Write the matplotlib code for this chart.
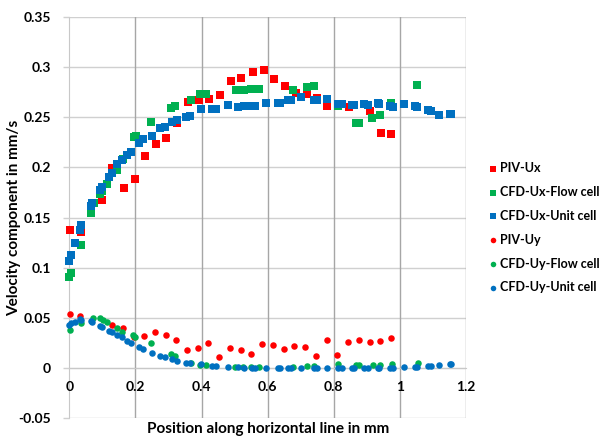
import matplotlib
matplotlib.use("Agg")
import matplotlib.pyplot as plt

plt.rcParams['font.family'] = ['Lato', 'DejaVu Sans']
plt.rcParams['font.weight'] = 'bold'

# Horizontal velocity component (Ux)
piv_ux_x = [0.002, 0.034, 0.100, 0.128, 0.164, 0.198, 0.228, 0.262, 0.294, 0.325,
            0.358, 0.391, 0.423, 0.456, 0.489, 0.520, 0.555, 0.588, 0.619, 0.652,
            0.685, 0.718, 0.748, 0.780, 0.845, 0.877, 0.910, 0.942, 0.974]
piv_ux_y = [0.138, 0.136, 0.168, 0.199, 0.180, 0.189, 0.211, 0.223, 0.229, 0.244,
            0.265, 0.267, 0.268, 0.272, 0.286, 0.289, 0.295, 0.297, 0.288, 0.281,
            0.274, 0.273, 0.269, 0.261, 0.260, 0.244, 0.256, 0.234, 0.233]

flow_x = [0.000, 0.005, 0.035, 0.067, 0.076, 0.093, 0.099, 0.113, 0.143, 0.162,
          0.196, 0.202, 0.246, 0.307, 0.320, 0.368, 0.394, 0.414, 0.504, 0.527,
          0.550, 0.574, 0.676, 0.720, 0.739, 0.813, 0.866, 0.877, 0.917, 0.939,
          0.974, 1.053]
flow_ux_y = [0.091, 0.095, 0.123, 0.155, 0.165, 0.174, 0.177, 0.184, 0.197, 0.208,
             0.230, 0.231, 0.245, 0.259, 0.261, 0.267, 0.273, 0.273, 0.277, 0.277,
             0.278, 0.278, 0.277, 0.280, 0.281, 0.261, 0.244, 0.244, 0.249, 0.252,
             0.264, 0.282]

unit_x = [0.000, 0.005, 0.017, 0.032, 0.035, 0.066, 0.069, 0.093, 0.100, 0.120,
          0.130, 0.144, 0.158, 0.174, 0.186, 0.210, 0.222, 0.251, 0.274, 0.288,
          0.310, 0.325, 0.354, 0.366, 0.398, 0.431, 0.444, 0.479, 0.510, 0.527,
          0.553, 0.563, 0.595, 0.630, 0.638, 0.662, 0.672, 0.702, 0.740, 0.750,
          0.781, 0.812, 0.824, 0.855, 0.862, 0.890, 0.903, 0.934, 0.937, 0.970,
          0.978, 1.012, 1.047, 1.051, 1.084, 1.094, 1.119, 1.152, 1.155]
unit_ux_y = [0.107, 0.113, 0.125, 0.138, 0.143, 0.162, 0.165, 0.178, 0.181, 0.191,
             0.195, 0.203, 0.207, 0.212, 0.215, 0.224, 0.228, 0.231, 0.239, 0.240,
             0.245, 0.247, 0.250, 0.251, 0.258, 0.258, 0.258, 0.262, 0.260, 0.261,
             0.261, 0.261, 0.264, 0.264, 0.264, 0.267, 0.267, 0.270, 0.267, 0.267,
             0.268, 0.263, 0.263, 0.262, 0.262, 0.263, 0.262, 0.264, 0.263, 0.261,
             0.260, 0.263, 0.261, 0.260, 0.257, 0.256, 0.252, 0.253, 0.253]

# Vertical velocity component (Uy)
piv_uy_x = [0.002, 0.032, 0.128, 0.162, 0.196, 0.226, 0.259, 0.293, 0.323, 0.356,
            0.389, 0.421, 0.453, 0.487, 0.518, 0.550, 0.583, 0.615, 0.648, 0.681,
            0.714, 0.746, 0.779, 0.810, 0.842, 0.876, 0.909, 0.940, 0.973]
piv_uy_y = [0.054, 0.052, 0.043, 0.040, 0.031, 0.032, 0.036, 0.033, 0.028, 0.018,
            0.020, 0.025, 0.011, 0.020, 0.018, 0.014, 0.024, 0.023, 0.019, 0.022,
            0.021, 0.012, 0.028, 0.013, 0.026, 0.028, 0.026, 0.027, 0.030]

flow_uy_x = [0.002, 0.035, 0.073, 0.093, 0.103, 0.113, 0.143, 0.160, 0.192, 0.199,
             0.247, 0.307, 0.320, 0.368, 0.394, 0.413, 0.501, 0.525, 0.550, 0.575,
             0.676, 0.719, 0.739, 0.813, 0.866, 0.876, 0.918, 0.940, 0.975, 1.056]
flow_uy_y = [0.038, 0.045, 0.050, 0.050, 0.048, 0.046, 0.040, 0.036, 0.033, 0.031,
             0.025, 0.014, 0.012, 0.005, 0.003, 0.003, 0.001, 0.001, 0.001, 0.001,
             0.001, 0.002, 0.002, 0.004, 0.003, 0.003, 0.003, 0.003, 0.004, 0.005]

unit_uy_y = [0.043, 0.045, 0.046, 0.049, 0.048, 0.047, 0.046, 0.042, 0.041, 0.037,
             0.036, 0.033, 0.031, 0.027, 0.025, 0.021, 0.019, 0.015, 0.012, 0.011,
             0.009, 0.007, 0.005, 0.005, 0.004, 0.002, 0.002, 0.001, 0.001, 0.0005,
             0.0005, 0.0005, 0.0005, 0.0005, 0.0005, 0.0005, 0.0005, 0.0005, 0.0005, 0.0005,
             0.0005, 0.0005, 0.0005, 0.0005, 0.0005, 0.0005, 0.0005, 0.0005, 0.0005, 0.0005,
             0.0005, 0.001, 0.0015, 0.0015, 0.002, 0.0025, 0.003, 0.004, 0.004]

x_ticks = [0, 0.2, 0.4, 0.6, 0.8, 1.0, 1.2]
x_tick_labels = ['0', '0.2', '0.4', '0.6', '0.8', '1', '1.2']
y_ticks = [-0.05, 0, 0.05, 0.1, 0.15, 0.2, 0.25, 0.3, 0.35]
y_tick_labels = ['-0.05', '0', '0.05', '0.1', '0.15', '0.2', '0.25', '0.3', '0.35']

RED, GREEN, BLUE = '#FF0000', '#00B050', '#0070C0'

fig = plt.figure(figsize=(6.05, 4.4), dpi=100)
ax = fig.add_axes([69.3 / 605, 1 - 418.3 / 440, (466 - 69.3) / 605, (418.3 - 17) / 440])

sq = dict(marker='s', s=26, linewidths=0, clip_on=False, zorder=3)
ci = dict(marker='o', s=22, linewidths=0, clip_on=False, zorder=3)

ax.scatter(piv_ux_x, piv_ux_y, color=RED, label='PIV-Ux', **sq)
ax.scatter(flow_x, flow_ux_y, color=GREEN, label='CFD-Ux-Flow cell', **sq)
ax.scatter(unit_x, unit_ux_y, color=BLUE, label='CFD-Ux-Unit cell', **sq)
ax.scatter(piv_uy_x, piv_uy_y, color=RED, label='PIV-Uy', **ci)
ax.scatter(flow_uy_x, flow_uy_y, color=GREEN, label='CFD-Uy-Flow cell', **ci)
ax.scatter(unit_x, unit_uy_y, color=BLUE, label='CFD-Uy-Unit cell', **ci)

ax.set_xlim(0, 1.2)
ax.set_ylim(-0.05, 0.35)
ax.set_xticks(x_ticks)
ax.set_xticklabels(x_tick_labels)
ax.set_yticks(y_ticks)
ax.set_yticklabels(y_tick_labels)

# grid: light horizontal lines, darker vertical lines
for yv in y_ticks:
    ax.axhline(yv, color='#D0D0D0', lw=1.0, zorder=0)
for xv in x_ticks[1:]:
    ax.axvline(xv, color='#A6A6A6', lw=1.0, zorder=0)

for side in ('top', 'right'):
    ax.spines[side].set_visible(False)
ax.spines['left'].set_color('#C8C8C8')
ax.spines['left'].set_zorder(0)
ax.spines['bottom'].set_position(('data', 0))
ax.spines['bottom'].set_color('#C8C8C8')
ax.spines['bottom'].set_zorder(0)

ax.tick_params(axis='x', length=0, pad=9, labelsize=10)
ax.tick_params(axis='y', length=4, width=1, color='#D0D0D0', pad=9, labelsize=10)
for lbl in ax.get_xticklabels() + ax.get_yticklabels():
    lbl.set_fontweight('bold')

ax.set_xlabel('Position along horizontal line in mm', fontsize=11, fontweight='bold')
ax.xaxis.set_label_coords(0.5, -0.01)
ax.set_ylabel('Velocity component in mm/s', fontsize=11, fontweight='bold')
ax.yaxis.set_label_coords(-0.122, 0.5)

leg = ax.legend(loc='upper left', bbox_to_anchor=(487 / 605, 1 - 162 / 440),
                bbox_transform=fig.transFigure, frameon=False,
                prop={'weight': 'bold', 'size': 9}, handletextpad=0.05,
                labelspacing=0.95, borderaxespad=0, borderpad=0,
                handlelength=1.0, markerscale=0.85)

fig.savefig('out.png', dpi=100)
